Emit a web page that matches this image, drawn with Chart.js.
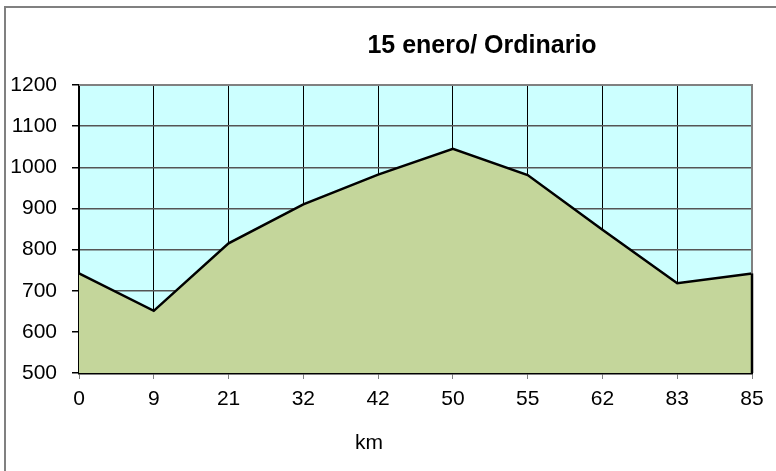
<!DOCTYPE html>
<html>
<head>
<meta charset="utf-8">
<script src="https://cdn.jsdelivr.net/npm/chart.js@4/dist/chart.umd.min.js"></script>
<style>
html,body{margin:0;padding:0;background:#fff;}
#wrap{width:776px;height:471px;position:relative;}
</style>
</head>
<body>
<div id="wrap"><canvas id="c" width="776" height="471"></canvas></div>
<script>
const categories = ['0','9','21','32','42','50','55','62','83','85'];
const altitude = [742, 651, 815, 910, 982, 1045, 981, 848, 718, 742];
const yTicks = [500, 600, 700, 800, 900, 1000, 1100, 1200];
const titleText = '15 enero/ Ordinario';
const xTitle = 'km';

const FONT = "'Liberation Sans', Arial, sans-serif";

const decor = {
  id: 'decor',
  beforeDraw(chart) {
    const {ctx, chartArea: a} = chart;
    ctx.save();
    ctx.fillStyle = '#fff';
    ctx.fillRect(0, 0, chart.width, chart.height);
    // outer frame
    ctx.strokeStyle = '#808080';
    ctx.lineWidth = 2;
    ctx.beginPath();
    ctx.moveTo(5, chart.height);
    ctx.lineTo(5, 7);
    ctx.lineTo(chart.width, 7);
    ctx.stroke();
    // plot background
    ctx.fillStyle = '#CCFFFF';
    ctx.fillRect(a.left, a.top, a.right - a.left, a.bottom - a.top);
    ctx.restore();
  },
  afterDraw(chart) {
    const {ctx, chartArea: a} = chart;
    ctx.save();
    // plot border top/right
    ctx.strokeStyle = '#808080';
    ctx.lineWidth = 2;
    ctx.beginPath();
    ctx.moveTo(a.left, a.top);
    ctx.lineTo(a.right, a.top);
    ctx.lineTo(a.right, a.bottom);
    ctx.stroke();
    // right edge of area
    const meta = chart.getDatasetMeta(0);
    const last = meta.data[meta.data.length - 1];
    ctx.strokeStyle = '#000';
    ctx.lineWidth = 2.5;
    ctx.beginPath();
    ctx.moveTo(last.x, last.y);
    ctx.lineTo(last.x, a.bottom);
    ctx.stroke();
    // titles
    ctx.fillStyle = '#000';
    ctx.textAlign = 'center';
    ctx.textBaseline = 'alphabetic';
    ctx.font = 'bold 25px ' + FONT;
    ctx.fillText(titleText, 482, 53);
    ctx.font = '21px ' + FONT;
    ctx.fillText(xTitle, 369, 449);
    ctx.restore();
  }
};

new Chart(document.getElementById('c'), {
  type: 'line',
  data: {
    labels: categories,
    datasets: [{
      data: altitude,
      fill: 'start',
      backgroundColor: '#C4D69B',
      borderColor: '#000',
      borderWidth: 2.5,
      pointRadius: 0,
      tension: 0
    }]
  },
  options: {
    responsive: false,
    animation: false,
    devicePixelRatio: 1,
    layout: {padding: {left: 0, right: 24, top: 85, bottom: 0}},
    plugins: {legend: {display: false}, title: {display: false}, tooltip: {enabled: false}},
    scales: {
      x: {
        type: 'category',
        offset: false,
        grid: {color: '#000', lineWidth: 1, tickLength: 6, tickColor: '#808080', offset: false},
        border: {color: '#000', width: 2.5},
        ticks: {color: '#000', font: {family: FONT, size: 21}, padding: 8, maxRotation: 0, autoSkip: false},
        afterFit(s) { s.height = 98; }
      },
      y: {
        min: 500, max: 1200,
        afterBuildTicks(s) { s.ticks = yTicks.map(v => ({value: v})); },
        grid: {color: '#555', lineWidth: 1.5, tickLength: 7, tickColor: '#000'},
        border: {color: '#000', width: 2},
        ticks: {color: '#000', font: {family: FONT, size: 21}, padding: 15, callback: v => String(v)},
        afterFit(s) { s.width = 79; }
      }
    }
  },
  plugins: [decor]
});
</script>
</body>
</html>
